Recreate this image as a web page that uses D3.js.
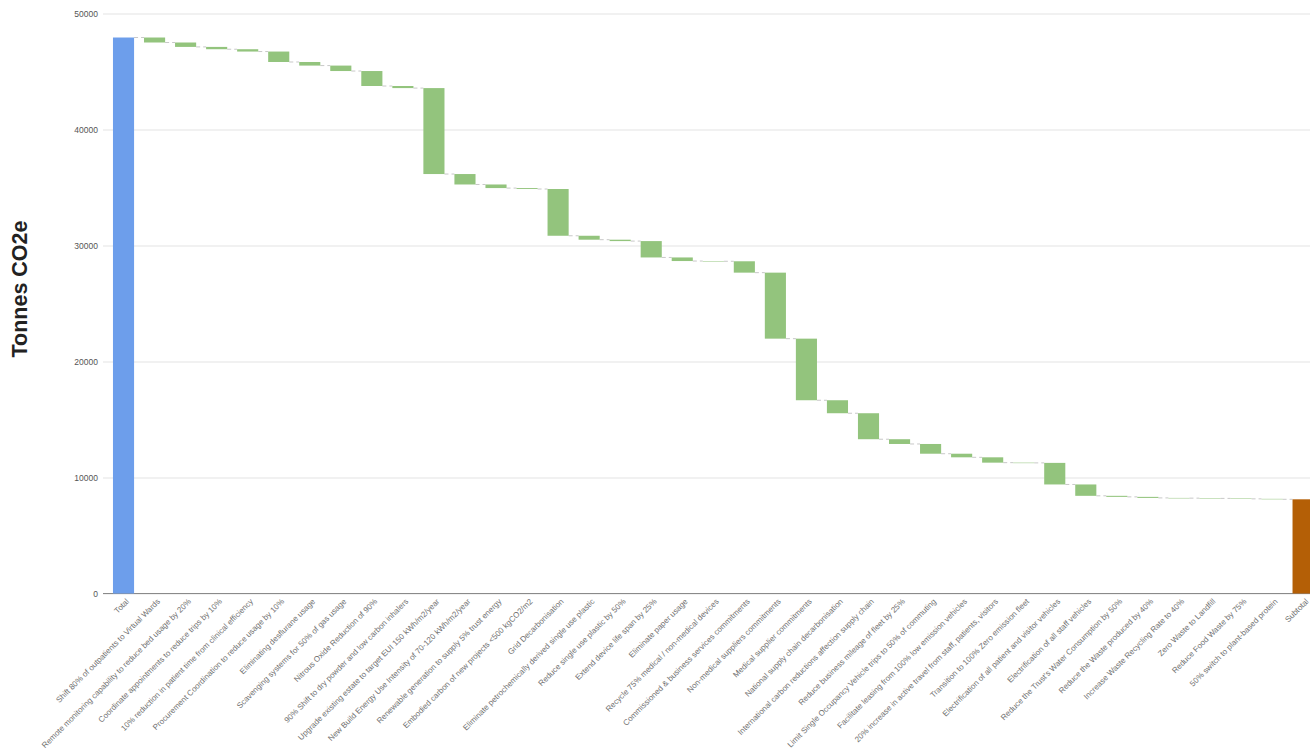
<!DOCTYPE html>
<html>
<head>
<meta charset="utf-8">
<script src="https://cdn.jsdelivr.net/npm/d3@7"></script>
<style>
  html, body { margin: 0; padding: 0; background: #ffffff; }
  svg { display: block; }
</style>
</head>
<body>
<svg id="chart" width="1310" height="751"></svg>
<script>
// Carbon reduction pathway: starting total, each intervention's reduction, remaining subtotal
const startLabel = "Total";
const startValue = 47930;

const steps = [
  "Shift 80% of outpatients to Virtual Wards",
  "Remote monitoring capability to reduce bed usage by 20%",
  "Coordinate appointments to reduce trips by 10%",
  "10% reduction in patient time from clinical efficiency",
  "Procurement Coordination to reduce usage by 10%",
  "Eliminating desflurane usage",
  "Scavenging systems for 50% of gas usage",
  "Nitrous Oxide Reduction of 90%",
  "90% Shift to dry powder and low carbon inhalers",
  "Upgrade existing estate to target EUI 150 kWh/m2/year",
  "New Build Energy Use Intensity of 70-120 kWh/m2/year",
  "Renewable generation to supply 5% trust energy",
  "Embodied carbon of new projects <500 kgCO2/m2",
  "Grid Decarbonisation",
  "Eliminate petrochemically derived single use plastic",
  "Reduce single use plastic by 50%",
  "Extend device life span by 25%",
  "Eliminate paper usage",
  "Recycle 75% medical / non-medical devices",
  "Commissioned & business services commitments",
  "Non-medical suppliers commitments",
  "Medical supplier commitments",
  "National supply chain decarbonisation",
  "International carbon reductions affection supply chain",
  "Reduce business mileage of fleet by 25%",
  "Limit Single Occupancy Vehicle trips to 50% of commuting",
  "Facilitate leasing from 100% low emission vehicles",
  "20% increase in active travel from staff, patients, visitors",
  "Transition to 100% Zero emission fleet",
  "Electrification of all patient and visitor vehicles",
  "Electrification of all staff vehicles",
  "Reduce the Trust's Water Consumption by 50%",
  "Reduce the Waste produced by 40%",
  "Increase Waste Recycling Rate to 40%",
  "Zero Waste to Landfill",
  "Reduce Food Waste by 75%",
  "50% switch to plant-based protein"
];

// Change in tonnes CO2e contributed by each step (negative = reduction)
const changes = [
  -430, -380, -200, -200, -900, -310, -470, -1290, -180,
  -7410, -900, -310, -80, -4030,
  -340, -120, -1410, -310, -20,
  -980, -5690, -5310, -1120, -2240,
  -410, -840, -310, -460, -20, -1860, -980,
  -90, -90, -20, -20, -40, -40
];

const endLabel = "Subtotal";
const yTicks = [0, 10000, 20000, 30000, 40000, 50000];
const yTitle = "Tonnes CO2e";

// Build waterfall segments
const rows = [];
rows.push({ name: startLabel, y0: 0, y1: startValue, kind: "total" });
let running = startValue;
steps.forEach((name, i) => {
  const next = running + changes[i];
  rows.push({ name, y0: running, y1: next, kind: "step" });
  running = next;
});
rows.push({ name: endLabel, y0: 0, y1: running, kind: "subtotal" });

const colors = { total: "#6d9eeb", step: "#93c47d", subtotal: "#b45f06" };

const svg = d3.select("#chart");

const x = d3.scaleBand()
  .domain(rows.map(d => d.name))
  .range([108, 1318.6])
  .paddingInner(0.32)
  .paddingOuter(0.16);

const y = d3.scaleLinear()
  .domain([0, 50000])
  .range([593.5, 13.5]);

// Gridlines and y tick labels
const yAxis = d3.axisLeft(y)
  .tickValues(yTicks)
  .tickSize(-(1310 - 103))
  .tickPadding(5)
  .tickFormat(d3.format("d"));

const gy = svg.append("g")
  .attr("transform", "translate(103,0)")
  .call(yAxis);
gy.select(".domain").remove();
gy.selectAll(".tick line").attr("stroke", "#e3e3e3").attr("stroke-width", 1);
gy.selectAll(".tick text")
  .attr("x", -5)
  .attr("fill", "#555")
  .style("font-family", "Arial, 'Liberation Sans', sans-serif")
  .style("font-size", "8.5px");

// Baseline
svg.append("line")
  .attr("x1", 103).attr("x2", 1310)
  .attr("y1", y(0)).attr("y2", y(0))
  .attr("stroke", "#8a8a8a").attr("stroke-width", 1.2);

// Connectors between consecutive bars
const conn = [];
for (let i = 0; i < rows.length - 1; i++) {
  conn.push({ from: rows[i], to: rows[i + 1], level: rows[i].y1 });
}
svg.append("g")
  .selectAll("line")
  .data(conn)
  .join("line")
  .attr("x1", d => x(d.from.name) + x.bandwidth())
  .attr("x2", d => x(d.to.name))
  .attr("y1", d => y(d.level))
  .attr("y2", d => y(d.level))
  .attr("stroke", "#c8c8c8")
  .attr("stroke-width", 1)
  .attr("stroke-dasharray", "4,3");

// Bars
svg.append("g")
  .selectAll("rect")
  .data(rows)
  .join("rect")
  .attr("x", d => x(d.name))
  .attr("width", x.bandwidth())
  .attr("y", d => y(Math.max(d.y0, d.y1)))
  .attr("height", d => Math.max(0.5, Math.abs(y(d.y0) - y(d.y1))))
  .attr("fill", d => colors[d.kind]);

// Category labels, rotated
svg.append("g")
  .selectAll("text")
  .data(rows)
  .join("text")
  .attr("transform", d => `translate(${x(d.name) + x.bandwidth() / 2 + 4},${600}) rotate(-45)`)
  .attr("text-anchor", "end")
  .attr("dy", "0.35em")
  .attr("fill", "#707070")
  .style("font-family", "'Liberation Sans', Arial, sans-serif")
  .style("font-size", "8px")
  .text(d => d.name);

// Y axis title
svg.append("text")
  .attr("transform", "translate(27,289) rotate(-90)")
  .attr("text-anchor", "middle")
  .attr("fill", "#222")
  .style("font-family", "Arial, 'Liberation Sans', sans-serif")
  .style("font-weight", "bold")
  .style("font-size", "21.5px")
  .text(yTitle);
</script>
</body>
</html>
